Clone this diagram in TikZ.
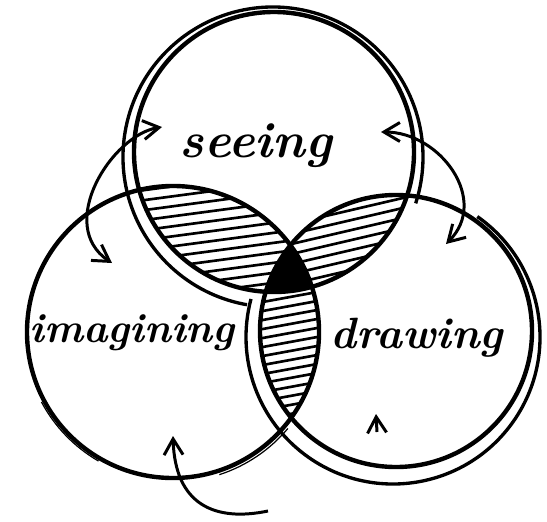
\documentclass[tikz,border=0pt]{standalone}
\usepackage{fontspec}
\usetikzlibrary{arrows.meta}

\begin{document}
\begin{tikzpicture}[
x=0.02cm, y=-0.02cm,
>={Straight Barb[length=3.2mm,width=3.8mm]},
word/.style={
font=\bfseries\itshape\fontsize{28}{34}\selectfont,
anchor=base,
inner sep=0pt
},
ring/.style={line width=2.5pt},
ringtwo/.style={line width=1.9pt},
thinring/.style={line width=0.7pt},
hatch/.style={line width=1.5pt},
loop/.style={line width=1.7pt}
]

\useasboundingbox (0,0) rectangle (547,521);

\begin{scope}
\clip (274,152) circle (140);
\clip (173,332) circle (146);
\foreach \y in {186,196,...,380}
\draw[hatch] (100,\y) -- ++(300,-40);
\end{scope}

\begin{scope}
\clip (274,152) circle (140);
\clip (396,331) circle (136);
\foreach \y in {196,206,...,400}
\draw[hatch] (240,\y) -- ++(300,-70);
\end{scope}

\begin{scope}
\clip (173,332) circle (146);
\clip (396,331) circle (136);
\foreach \y in {236,245,...,470}
\draw[hatch] (230,\y) -- ++(300,-55);
\end{scope}

\begin{scope}
\clip (274,152) circle (140);
\clip (173,332) circle (146);
\fill (396,331) circle (136);
\end{scope}

\draw[ring] (274,152) circle (140);
\draw[ringtwo] ([shift={(100:150)}]273,157) arc[start angle=100, end angle=378, radius=150];

\draw[ring] (173,332) circle (146);
\draw[thinring] ([shift={(120:149)}]173,332) arc[start angle=120, end angle=152, radius=149];
\draw[thinring] ([shift={(40:150)}]173,332) arc[start angle=40, end angle=72, radius=150];

\draw[ring] (396,331) circle (136);
\draw[ringtwo] ([shift={(-55:147)}]393,337) arc[start angle=-55, end angle=195, radius=147];

\node[word, scale=1.02] (seeing) at (256,157) {seeing};

\node[word, scale=0.84] (imagining) at (132,342) {imagining};

\node[word, scale=0.89] (drawing) at (417,348) {drawing};

\coordinate (sl) at (162,127);
\coordinate (il) at (112,263);
\coordinate (sr) at (381,132);
\coordinate (dr) at (446,244);
\coordinate (ib) at (173,436);
\coordinate (bt) at (268,511);
\coordinate (dd) at (377,432);
\coordinate (du) at (376,414);

\draw[loop, <->] (sl) .. controls (112,135) and (55,225) .. (il);
\draw[loop, <->] (sr) .. controls (440,132) and (490,200) .. (dr);
\draw[loop, ->] (bt) .. controls (215,522) and (175,505) .. (ib);
\draw[loop, ->] (dd) -- (du);

\end{tikzpicture}
\end{document}
